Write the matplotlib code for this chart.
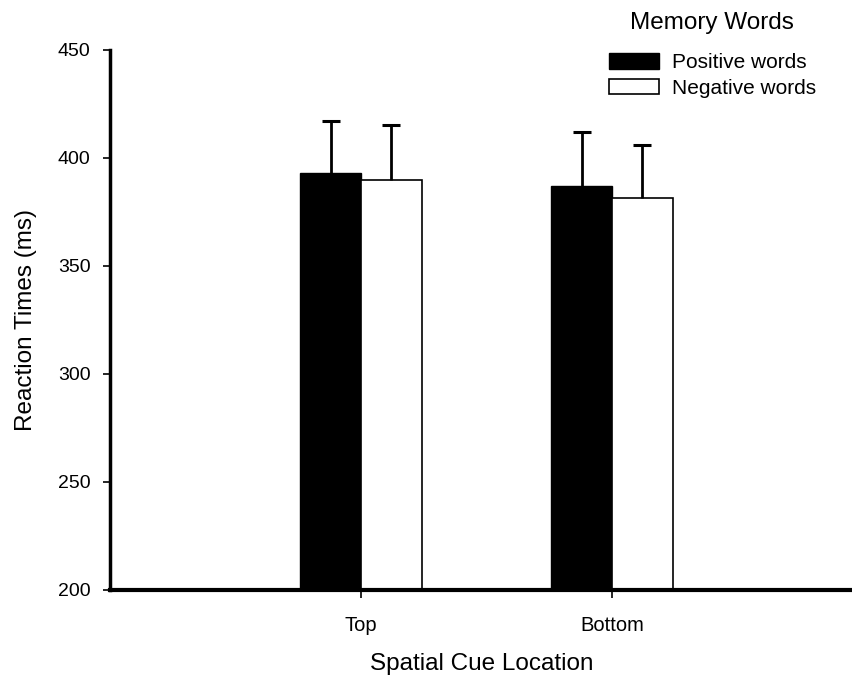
import matplotlib
matplotlib.use("Agg")
import matplotlib.pyplot as plt
import numpy as np

plt.rcParams['font.family'] = ['Liberation Sans', 'DejaVu Sans']

locations = ['Top', 'Bottom']
positive_rt = [392.9, 387.0]
negative_rt = [389.8, 381.3]
positive_err = [24.1, 25.0]
negative_err = [25.3, 24.9]

fig = plt.figure(figsize=(8.53, 6.79), dpi=100)
ax = fig.add_axes([110 / 853, 89 / 679, 743 / 853, 540 / 679])

x = np.arange(1, len(locations) + 1)
w = 0.243
ax.bar(x - w / 2, np.array(positive_rt) - 200, w, bottom=200, color='black',
       edgecolor='black', linewidth=1, label='Positive words', zorder=2)
ax.bar(x + w / 2, np.array(negative_rt) - 200, w, bottom=200, color='white',
       edgecolor='black', linewidth=1.2, label='Negative words', zorder=2)

# upper error bars only, cap at the top
for xs, m, e in [(x - w / 2, positive_rt, positive_err), (x + w / 2, negative_rt, negative_err)]:
    tops = np.array(m) + np.array(e)
    ax.vlines(xs, m, tops, color='black', linewidth=2, zorder=3)
    ax.plot(xs, tops, linestyle='none', marker='_', markersize=13,
            markeredgewidth=2.2, color='black', zorder=3)

ax.set_xlim(0, 743 / 251)
ax.set_ylim(200, 450)
ax.set_yticks(np.arange(200, 451, 50))
ax.set_xticks(x)
ax.set_xticklabels(locations)

for s in ['top', 'right']:
    ax.spines[s].set_visible(False)
ax.spines['left'].set_linewidth(2.5)
ax.spines['bottom'].set_linewidth(3)
ax.tick_params(axis='y', length=5, width=1.2, pad=9, labelsize=14)
ax.tick_params(axis='x', length=6, width=1.2, pad=13, labelsize=14.5)

ax.set_xlabel('Spatial Cue Location', fontsize=17.5, labelpad=13)
ax.set_ylabel('Reaction Times (ms)', fontsize=17.5, labelpad=15)

fig.text(712 / 853, 1 - 23 / 679, 'Memory Words', fontsize=17.5,
         ha='center', va='center')
fig.legend(loc='upper left', bbox_to_anchor=(599 / 853, 1 - 43 / 679),
           frameon=False, fontsize=15, handlelength=2.4, handleheight=0.78,
           labelspacing=0.3, handletextpad=0.6, borderpad=0)

fig.savefig('out.png', dpi=100)
